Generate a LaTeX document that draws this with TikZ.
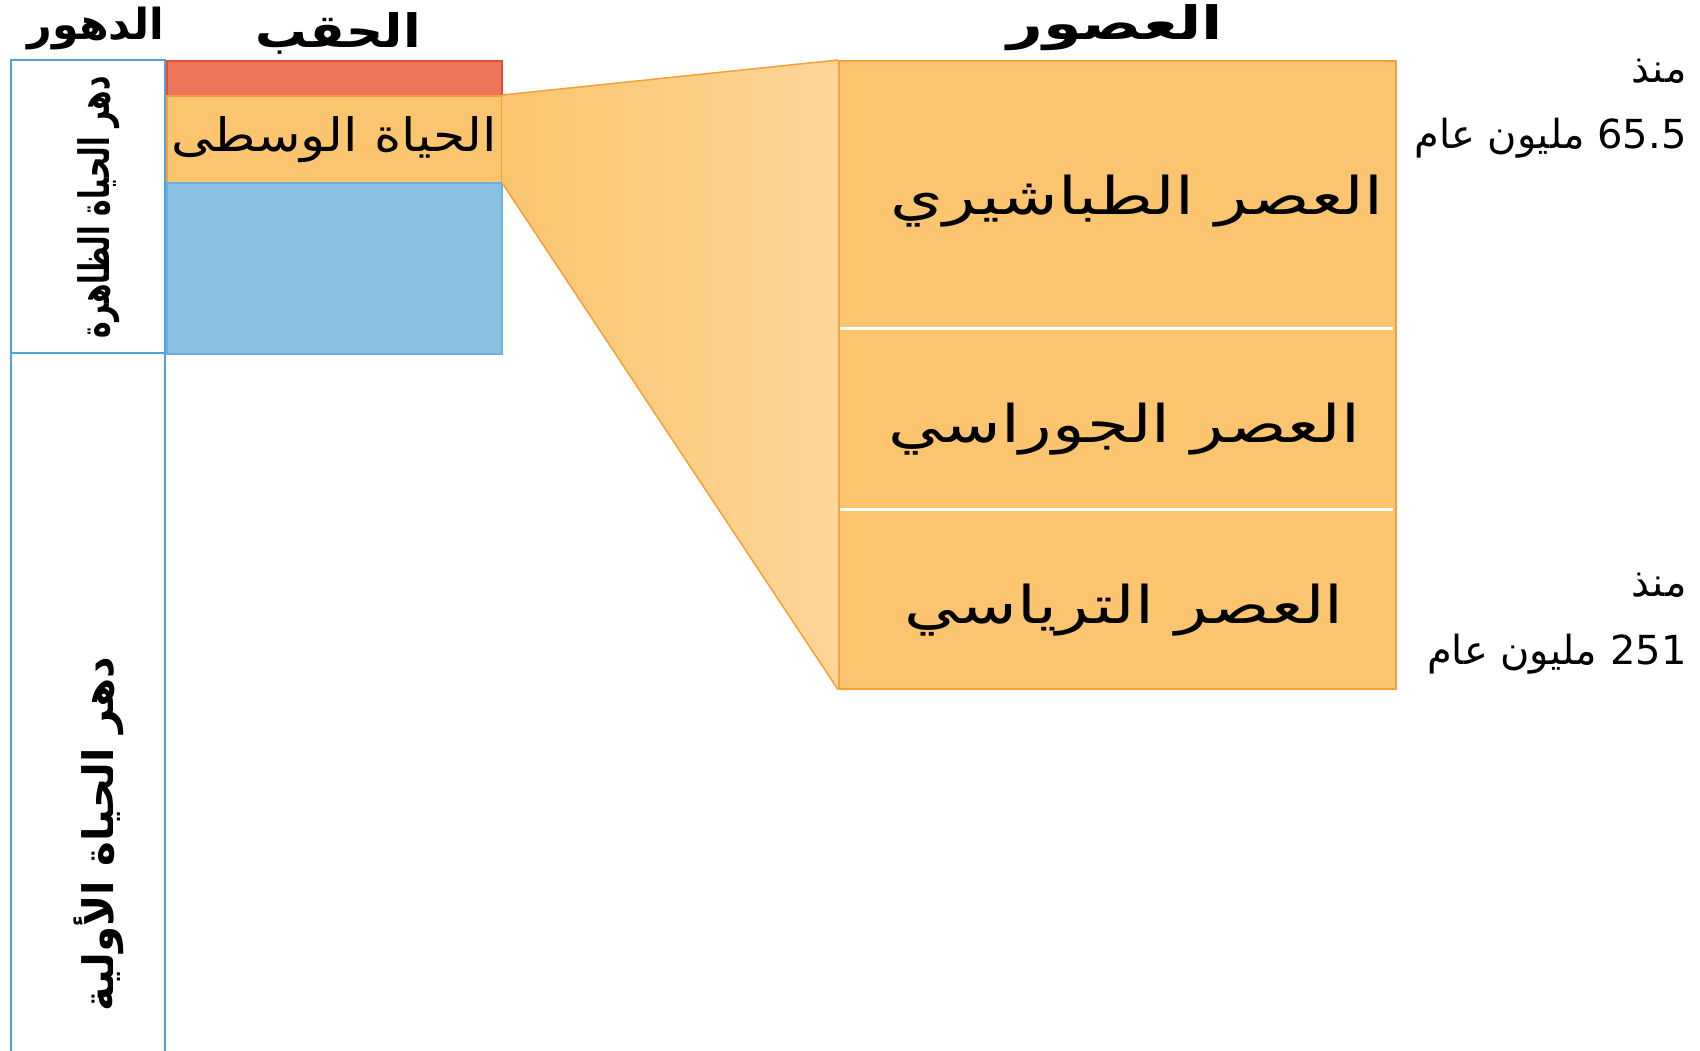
\documentclass[tikz,border=0pt]{standalone}
\usepackage{fontspec}
\newfontfamily\arabicfont[Script=Arabic]{DejaVu Sans}
\TeXXeTstate=1
\definecolor{eonblue}{HTML}{4FA3DB}
\definecolor{redfill}{HTML}{ED7559}
\definecolor{redline}{HTML}{E84A3C}
\definecolor{orangefill}{HTML}{FBC56F}
\definecolor{orangeline}{HTML}{F6A03A}
\definecolor{bluefill}{HTML}{89BFE1}
\definecolor{blueline}{HTML}{6BB0DE}
\definecolor{fanlight}{HTML}{FCD698}
\tikzset{
  head/.style={font=\arabicfont\bfseries\fontsize{46}{50}\selectfont},
  eonlabel/.style={rotate=90,font=\arabicfont\bfseries\fontsize{42}{46}\selectfont},
  period/.style={font=\arabicfont\fontsize{52}{56}\selectfont},
  since/.style={anchor=east,font=\arabicfont\fontsize{40}{44}\selectfont},
  era/.style={draw,anchor=north west,minimum width=335pt,inner sep=0pt,line width=1.5pt}
}
\begin{document}
\begin{tikzpicture}
[x=1pt,y=-1pt]
 \useasboundingbox[fill=white] (0,0) rectangle (1700,1050);
 % eons
 \draw[eonblue,line width=1.5pt] (11,1056) -- (11,60) -- (165,60) -- (165,1056);
 \draw[eonblue,line width=1.5pt] (11,353) -- (165,353);
 % eras
 \node (ceno) [era,draw=redline,fill=redfill,minimum height=35pt] at (166,60) {};
 \node (meso) [era,draw=orangeline,fill=orangefill,minimum height=87pt] at (166,95) {};
 \node (paleo) [era,draw=blueline,fill=bluefill,minimum height=171pt] at (166,182) {};
 % periods
 \node (periods) [draw=orangeline,fill=orangefill,line width=1.5pt,anchor=north west,
   minimum width=557pt,minimum height=628pt,inner sep=0pt] at (838,60) {};
 \shade[left color=orangefill,right color=fanlight] (meso.north east) -- (periods.north west)
   -- (periods.south west) -- (meso.south east) -- cycle;
 \draw[orangeline,line width=1.5pt] (meso.north east) -- (periods.north west);
 \draw[orangeline,line width=1.5pt] (meso.south east) -- (periods.south west);
 \draw[white,line width=3pt] (840,328) -- (1393,328);
 \draw[white,line width=3pt] (840,509) -- (1393,509);
 % texts
 \node (heon) [head] at (96,28) {\scalebox{0.93}{\beginR الدهور\endR}};
 \node (hera) [head] at (338,33) {\scalebox{1.12}[1]{\beginR الحقب\endR}};
 \node (hperiod) [head] at (1115,28) {\scalebox{1.35}[1]{\beginR العصور\endR}};
 \node (phan) [eonlabel] at (99,207) {\scalebox{0.67}[1]{\beginR دهر الحياة الظاهرة\endR}};
 \node (precam) [eonlabel] at (99,834) {\beginR دهر الحياة الأولية\endR};
 \node (mesolabel) [font=\arabicfont\fontsize{46}{50}\selectfont] at (meso) {\scalebox{1.13}[1]{\beginR الحياة الوسطى\endR}};
 \node (creta) [period] at (1137,201) {\scalebox{1.3}[1]{\beginR العصر الطباشيري\endR}};
 \node (jura) [period] at (1124,429) {\scalebox{1.3}[1]{\beginR العصر الجوراسي\endR}};
 \node (trias) [period] at (1124,610) {\scalebox{1.3}[1]{\beginR العصر الترياسي\endR}};
 \node (since1) [since] at (1690,71) {\beginR منذ\endR};
 \node (age1) [since] at (1690,138) {\beginR \beginL 65.5\endL{} مليون عام\endR};
 \node (since2) [since] at (1690,585) {\beginR منذ\endR};
 \node (age2) [since] at (1690,654) {\beginR \beginL 251\endL{} مليون عام\endR};
\end{tikzpicture}
\end{document}
